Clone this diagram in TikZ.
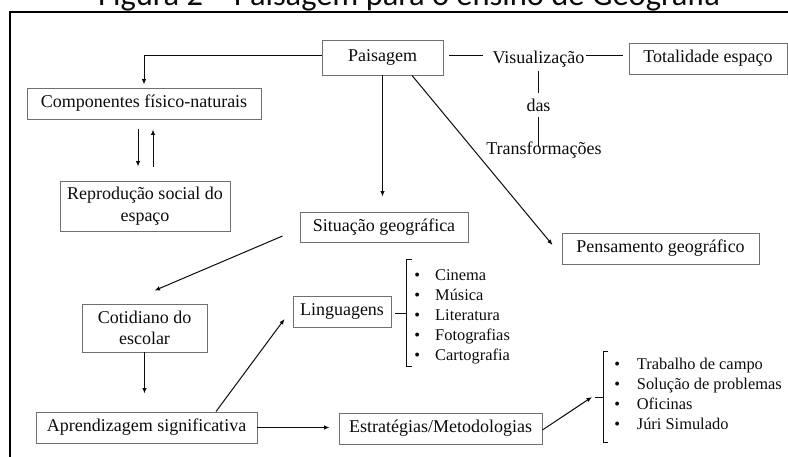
\documentclass[tikz,border=0pt]{standalone}
\usepackage{fontspec}
\setmainfont{Liberation Serif}
\newfontfamily\captionfont{Carlito}
\usetikzlibrary{arrows.meta}
\definecolor{boxline}{RGB}{112,112,112}
\definecolor{ink}{RGB}{12,12,12}
\begin{document}
\begin{tikzpicture}[x=1pt,y=-1pt,
  box/.style={draw=boxline, line width=0.9pt, inner sep=0pt, align=center,
    font=\fontsize{18}{21.5}\selectfont, text=ink},
  lbl/.style={anchor=base, inner sep=0pt, font=\fontsize{18}{21.5}\selectfont, text=ink},
  item/.style={anchor=base west, inner sep=0pt, font=\fontsize{16.4}{19.7}\selectfont, text=ink},
  dot/.style={anchor=base, inner sep=0pt, font=\fontsize{16.4}{19.7}\selectfont, text=ink},
  arr/.style={draw=ink, line width=1pt, -{Latex[length=5.5pt,width=4.5pt]}},
  link/.style={draw=ink, line width=1pt},
  frame/.style={draw=black, line width=1.9pt},
]
\useasboundingbox (0,0) rectangle (788,457);

% caption above the frame
\node[anchor=base west, inner sep=0pt, text=ink,
  font=\captionfont\fontsize{32.5}{39}\selectfont] (caption) at (98,6)
  {Figura 2 – Paisagem para o ensino de Geografia};

% frame
\draw[frame] (10,470) -- (10,12.2) -- (800,12.2);

% boxes
\node[box, minimum width=121pt, minimum height=35pt] (pais) at (382.5,57.5) {Paisagem};
\node[box, minimum width=158pt, minimum height=31pt] (total) at (708,58.5) {Totalidade espaço};
\node[box, minimum width=234pt, minimum height=31pt] (comp) at (144,103.5) {Componentes físico-naturais};
\node[box, minimum width=170pt, minimum height=50pt] (repr) at (145,206) {Reprodução social do\\espaço};
\node[box, minimum width=168pt, minimum height=30pt] (situ) at (384,227) {Situação geográfica};
\node[box, minimum width=197pt, minimum height=31pt] (pens) at (660.5,248.5) {Pensamento geográfico};
\node[box, minimum width=125pt, minimum height=48pt] (coti) at (144.5,328) {Cotidiano do\\escolar};
\node[box, minimum width=221pt, minimum height=31pt] (apre) at (146.5,427.5) {Aprendizagem significativa};
\node[box, minimum width=98pt, minimum height=31pt] (ling) at (342,311.5) {Linguagens};
\node[box, minimum width=203pt, minimum height=31pt] (estr) at (440.5,428.5) {Estratégias/Metodologias};

% free labels
\node[lbl] (visu) at (538.5,63.3) {Visualização};
\node[lbl] (das) at (538.5,111.7) {das};
\node[lbl] (tran) at (544,155) {Transformações};

% Paisagem -- Visualização -- Totalidade
\draw[link] ([xshift=6pt,yshift=1.5pt]pais.east) -- ([xshift=-9.5pt,yshift=7.3pt]visu.base west);
\draw[link] ([xshift=1pt,yshift=7.3pt]visu.base east) -- ([xshift=-6pt,yshift=2.5pt]total.west);
\draw[link] ([yshift=-7.7pt]visu.base) -- ([yshift=18.7pt]das.base);
\draw[link] ([yshift=-5.3pt]das.base) -- ([yshift=-5.3pt]das.base |- tran.north);

% arrows out of Paisagem
\draw[arr, shorten >=3pt] ([yshift=1.5pt]pais.west) -| (comp.north);
\draw[arr, shorten >=15pt] (pais.south) -- (pais.south |- situ.north);
\draw[arr] ([xshift=29.5pt]pais.south) -- ([xshift=-9pt,yshift=3.5pt]pens.west);

% Componentes <-> Reproducao
\draw[arr, shorten <=10pt, shorten >=14pt] ([xshift=-6pt]comp.south) -- ([xshift=-6pt]comp.south |- repr.north);
\draw[arr, shorten <=14pt, shorten >=10pt] ([xshift=9pt]comp.south |- repr.north) -- ([xshift=9pt]comp.south);

% lower chain
\draw[arr] ([xshift=-17pt,yshift=-9pt]situ.west) -- ([xshift=10pt,yshift=13pt]coti.north);
\draw[arr, shorten >=18pt] (coti.south) -- (coti.south |- apre.north);
\draw[arr] ([xshift=69.5pt]apre.north) -- ([xshift=-8pt,yshift=-7.5pt]ling.west);
\draw[arr, shorten >=9pt] (apre.east) -- (apre.east -| estr.west);

% list of languages
\coordinate (bra) at (406,314);
\draw[link] ([xshift=4pt,yshift=-2.5pt]ling.east) -- (bra);
\draw[link] (412,260) -- (406,260) -- (406,367) -- (412,367);
\foreach \t [count=\i from 0] in {Cinema, Música, Literatura, Fotografias, Cartografia} {
  \node[dot] (ldot\i) at (417.3,{281+19.75*\i}) {•};
  \node[item] (ltxt\i) at (435,{281+19.75*\i}) {\t};
}

% list of strategies
\coordinate (brb) at (592,397);
\draw[arr] ([yshift=-1.5pt]estr.east) -- (brb);
\draw[link] (595,397) -- (603,397);
\draw[link] (608,352) -- (603,352) -- (603,442) -- (608,442);
\foreach \t [count=\i from 0] in {Trabalho de campo, Solução de problemas, Oficinas, Júri Simulado} {
  \node[dot] (sdot\i) at (617.3,{370+19.7*\i}) {•};
  \node[item] (stxt\i) at (636.7,{370+19.7*\i}) {\t};
}
\end{tikzpicture}
\end{document}
